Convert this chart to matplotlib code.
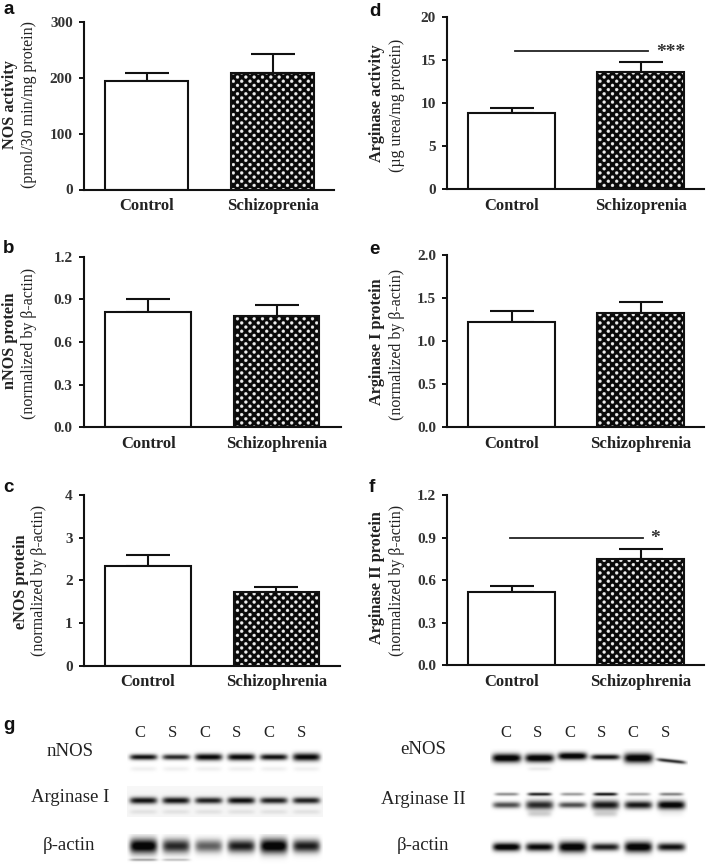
import numpy as np
import matplotlib
matplotlib.use("Agg")
import matplotlib.pyplot as plt
from matplotlib import hatch as mhatch
from matplotlib.path import Path

W, H = 708, 865

# Bar panels
panels = ['a', 'b', 'c', 'd', 'e', 'f']
means = {'a': [195, 208], 'b': [0.81, 0.78], 'c': [2.34, 1.73],
         'd': [8.9, 13.6], 'e': [1.22, 1.33], 'f': [0.52, 0.75]}
errors = {'a': [13, 34], 'b': [0.09, 0.08], 'c': [0.26, 0.11],
          'd': [0.5, 1.2], 'e': [0.13, 0.13], 'f': [0.04, 0.07]}
yticks = {'a': [0, 100, 200, 300], 'b': [0, 0.3, 0.6, 0.9, 1.2], 'c': [0, 1, 2, 3, 4],
          'd': [0, 5, 10, 15, 20], 'e': [0, 0.5, 1.0, 1.5, 2.0], 'f': [0, 0.3, 0.6, 0.9, 1.2]}
ytick_fmt = {'a': '%d', 'b': '%.1f', 'c': '%d', 'd': '%d', 'e': '%.1f', 'f': '%.1f'}
xlabels = {'a': ['Control', 'Schizoprenia'], 'b': ['Control', 'Schizophrenia'],
           'c': ['Control', 'Schizophrenia'], 'd': ['Control', 'Schizoprenia'],
           'e': ['Control', 'Schizophrenia'], 'f': ['Control', 'Schizophrenia']}
ylabel_bold = {'a': 'NOS activity', 'b': 'nNOS protein', 'c': 'eNOS protein',
               'd': 'Arginase activity', 'e': 'Arginase I protein', 'f': 'Arginase II protein'}
ylabel_reg = {'a': '(pmol/30 min/mg protein)', 'b': '(normalized by β-actin)',
              'c': '(normalized by β-actin)', 'd': '(µg urea/mg protein)',
              'e': '(normalized by β-actin)', 'f': '(normalized by β-actin)'}
sig_lines = {'d': ([0.03, 1.06], 16.0, '***'), 'f': ([-0.01, 1.02], 0.9, '*')}

# Layout in reference pixels: axis x, right end, top, bottom, first bar centre, bar spacing, bar width
layout = {'a': (84, 334, 22, 189.5, 146.5, 126, 82.5),
          'b': (84, 341, 256.7, 427.3, 148.2, 128.5, 85.5),
          'c': (84, 340, 495, 665.7, 147.8, 128.5, 85.5),
          'd': (447.3, 704, 17, 189.3, 511.6, 129, 86.7),
          'e': (447.3, 704, 255.3, 427.3, 511.6, 129, 86.7),
          'f': (447.3, 704, 495, 665.3, 511.6, 129, 86.7)}
# y-label positions: bold x, bold y, regular x, regular y
label_pos = {'a': (10, 105, 29, 105), 'b': (10, 341, 29, 343), 'c': (21, 582, 39, 580),
             'd': (377, 103, 397, 105), 'e': (377, 342, 397, 344), 'f': (377, 578, 397, 580)}
letter_pos = {'a': (3, 10), 'b': (3, 248), 'c': (3, 487), 'd': (369, 11), 'e': (369, 249),
              'f': (369, 487), 'g': (3, 725)}

# Western blots: lane labels and band strength per lane
lanes = ['C', 'S', 'C', 'S', 'C', 'S']
nnos_i = [0.95, 0.85, 1.0, 1.0, 0.95, 1.0]
nnos_t = [2.9, 2.8, 3.5, 3.5, 3.1, 4.0]
arg1_i = [0.9, 0.9, 0.85, 0.92, 0.85, 0.85]
arg1_t = [3.4, 3.4, 3.2, 3.4, 3.2, 3.2]
actin1_i = [1.1, 0.85, 0.62, 0.9, 1.1, 0.9]
actin1_t = [7.5, 7.0, 6.5, 6.5, 7.5, 6.5]
enos_i = [1.1, 1.1, 1.1, 0.95, 1.1, 0.85]
enos_t = [4.5, 4.3, 3.8, 2.8, 5.0, 1.8]
enos_o = [0, 0, -2, -1, 0, 3]
arg2_top_i = [0.45, 0.9, 0.4, 0.95, 0.35, 0.5]
arg2_i = [0.7, 0.85, 0.7, 0.92, 0.92, 1.05]
arg2_t = [3.2, 4.6, 3.0, 4.6, 4.0, 4.5]
actin2_i = [1.1, 1.0, 1.1, 0.9, 1.1, 0.95]
actin2_t = [4.2, 4.2, 5.5, 3.8, 5.5, 4.0]

plt.rcParams['font.family'] = ['Liberation Serif', 'DejaVu Serif']
plt.rcParams['hatch.linewidth'] = 0.2


class DotGrid(mhatch.HatchPatternBase):
    # staggered white dots like the original bars
    def __init__(self, hatch, density):
        self.cols = 12
        self.rows = 24
        self.circle = Path.unit_circle()
        n = len(self.circle.vertices)
        self.num_vertices = (self.rows * (self.cols + 1)) * n if hatch else 0
        self.num_codes = self.num_vertices

    def set_vertices_and_codes(self, vertices, codes):
        n = len(self.circle.vertices)
        k = 0
        for r in range(self.rows):
            for c in range(self.cols + 1):
                cx = (c + 0.5 * (r % 2)) / self.cols
                cy = (r + 0.5) / self.rows
                vertices[k:k + n] = self.circle.vertices * 0.015 + [cx, cy]
                codes[k:k + n] = self.circle.codes
                k += n


mhatch._hatch_types[:] = [DotGrid]

fig = plt.figure(figsize=(W / 100, H / 100), dpi=100)


def fx(x):
    return x / W


def fy(y):
    return 1 - y / H


for p in panels:
    x0, x1, top, bot, c0, step, bw = layout[p]
    ax = fig.add_axes([fx(x0), fy(bot), (x1 - x0) / W, (bot - top) / H])
    ax.set_xlim((x0 - c0) / step, (x1 - c0) / step)
    ax.set_ylim(yticks[p][0], yticks[p][-1])
    width = bw / step
    ax.bar([0], means[p][0], width, color='white', edgecolor='#111111', linewidth=1.5, zorder=2)
    ax.bar([1], means[p][1], width, color='#0a0a0a', edgecolor='#eeeeee', hatch='.', linewidth=0, zorder=2)
    ax.bar([1], means[p][1], width, fill=False, edgecolor='#111111', linewidth=1.5, zorder=3)
    ax.errorbar([0, 1], means[p], yerr=[[0, 0], errors[p]], fmt='none', ecolor='#111111',
                elinewidth=1.5, capsize=15.5, capthick=1.5, zorder=1)
    for s in ['top', 'right']:
        ax.spines[s].set_visible(False)
    for s in ['left', 'bottom']:
        ax.spines[s].set_linewidth(1.5)
        ax.spines[s].set_color('#111111')
    ax.set_xticks([0, 1])
    ax.set_xticklabels(xlabels[p], fontsize=12, fontweight='bold', color='#222222')
    ax.tick_params(axis='x', length=0, pad=6)
    ax.set_yticks(yticks[p])
    ax.set_yticklabels([ytick_fmt[p] % v for v in yticks[p]], fontsize=11, fontweight='bold', color='#333333')
    ax.tick_params(axis='y', length=3.6, width=1.4, color='#111111', pad=4.5)
    ax.patch.set_alpha(0)

    bx, by, rx, ry = label_pos[p]
    fig.text(fx(bx), fy(by), ylabel_bold[p], rotation=90, ha='center', va='center',
             fontsize=11.7, fontweight='bold', color='#222222')
    fig.text(fx(rx), fy(ry), ylabel_reg[p], rotation=90, ha='center', va='center',
             fontsize=11.5, color='#222222')

    if p in sig_lines:
        sx, sy, stars = sig_lines[p]
        ax.plot(sx, [sy, sy], color='#222222', lw=1.3, zorder=4, clip_on=False)
        ax.annotate(stars, (sx[1], sy), xytext=(5 if len(stars) == 1 else 6, -1), textcoords='offset points',
                    fontsize=14, fontweight='bold', color='#333333', ha='left', va='center')

for k, (lx, ly) in letter_pos.items():
    fig.text(fx(lx), fy(ly), k, fontsize=13.5, fontweight='bold', family='Liberation Sans',
             ha='left', va='center', color='#111111')


def blot(x0, x1, y0, y1, bands, bg=0.0):
    # every band: (row centre px, strengths, thickness, offsets, half width)
    ax = fig.add_axes([fx(x0), fy(y1), (x1 - x0) / W, (y1 - y0) / H])
    ax.set_xlim(-0.5, 5.5)
    ax.set_ylim(y1, y0)
    ax.axis('off')
    xs = np.linspace(-0.5, 5.5, int((x1 - x0) * 2))
    ys = np.linspace(y0, y1, int((y1 - y0) * 2))
    X, Y = np.meshgrid(xs, ys)
    dens = np.full(X.shape, float(bg))
    for row, strength, thick, off, hw in bands:
        for i in range(6):
            prof_x = np.exp(-((X - i) / hw) ** 6)
            tilt = 1.2 * off[i] * (X - i) if off[i] > 0 else 0
            prof_y = np.exp(-((Y - row - off[i] - tilt) / thick[i]) ** 2)
            dens += strength[i] * prof_x * prof_y
    ax.imshow(1 - np.clip(dens, 0, 0.97), extent=(-0.5, 5.5, y1, y0), cmap='gray', vmin=0, vmax=1,
              aspect='auto', interpolation='bilinear')


zero = [0] * 6
blot(127, 323, 748, 775, [(757, nnos_i, nnos_t, zero, 0.42),
                          (769, [0.06] * 6, [2.5] * 6, zero, 0.4)])
blot(127, 323, 786, 817, [(800.5, arg1_i, arg1_t, zero, 0.42),
                          (812, [0.08] * 6, [2.5] * 6, zero, 0.42)], bg=0.035)
blot(127, 323, 834, 865, [(846, actin1_i, actin1_t, zero, 0.42),
                          (860, [0.35, 0.25, 0, 0, 0, 0], [1.2] * 6, zero, 0.42)])
blot(490, 688, 748, 775, [(758, enos_i, enos_t, enos_o, 0.44),
                          (769, [0, 0.08, 0, 0, 0, 0], [2] * 6, zero, 0.35)])
blot(490, 688, 790, 822, [(794, arg2_top_i, [1.6] * 6, zero, 0.36),
                          (805, arg2_i, arg2_t, zero, 0.42),
                          (814, [0, 0.18, 0, 0.18, 0, 0.04], [3] * 6, zero, 0.36)])
blot(490, 688, 836, 860, [(847, actin2_i, actin2_t, zero, 0.42)])

# Lane letters above the blots
for i, s in enumerate(lanes):
    fig.text(fx(140 + 32.2 * i), fy(733), s, ha='center', va='center', fontsize=12, color='#222222')
    fig.text(fx(505.7 + 31.9 * i), fy(733), s, ha='center', va='center', fontsize=12, color='#222222')

blot_labels = [('nNOS', 70, 752), ('Arginase I', 70, 798), ('β-actin', 69, 845),
               ('eNOS', 423, 750), ('Arginase II', 423, 800), ('β-actin', 423, 845)]
for txt, lx, ly in blot_labels:
    fig.text(fx(lx), fy(ly), txt, ha='center', va='center', fontsize=13.5, color='#222222')

fig.savefig('out.png', dpi=100)
